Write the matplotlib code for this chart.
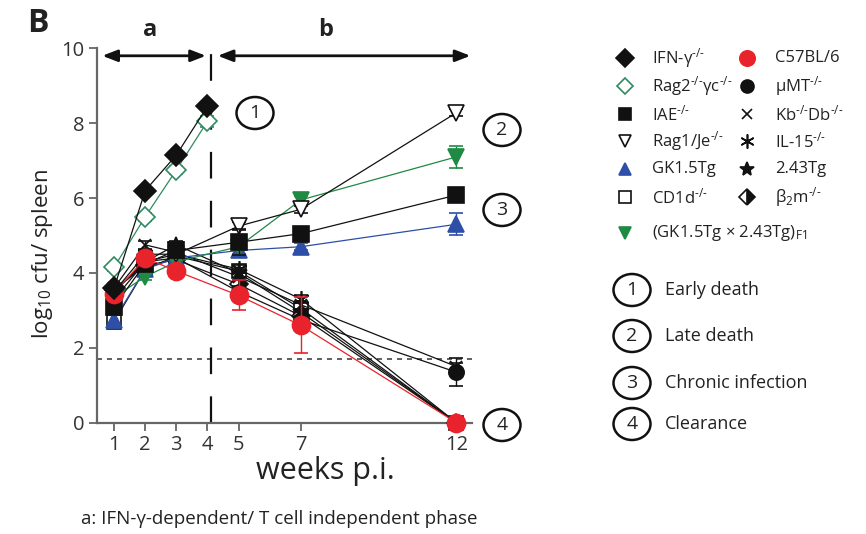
import matplotlib
matplotlib.use('Agg')
import matplotlib.pyplot as plt
from matplotlib.patches import Ellipse
from matplotlib.lines import Line2D

plt.rcParams['font.family'] = ['Open Sans', 'DejaVu Sans']
plt.rcParams['mathtext.fontset'] = 'custom'
plt.rcParams['mathtext.rm'] = 'Open Sans'
plt.rcParams['mathtext.it'] = 'Open Sans:italic'
plt.rcParams['mathtext.bf'] = 'Open Sans:bold'

# ---------------- data ----------------
weeks_early = [1, 2, 3, 4]
weeks = [1, 2, 3, 5, 7, 12]
xticks = [1, 2, 3, 4, 5, 7, 12]
yticks = [0, 2, 4, 6, 8, 10]

ifng = [3.6, 6.2, 7.15, 8.45]
rag2gc = [4.15, 5.5, 6.75, 8.05]

iae = [3.1, 4.25, 4.6, 4.82, 5.05, 6.08]
rag1je = [3.3, 4.3, 4.5, 5.25, 5.7, 8.28]
gk15 = [2.75, 4.1, 4.4, 4.6, 4.7, 5.3]
f1 = [3.35, 3.9, 4.3, 4.7, 5.95, 7.1]
cd1d = [2.7, 4.1, 4.45, 4.05, 3.05, 0.0]
c57 = [3.45, 4.4, 4.05, 3.4, 2.6, 0.0]
mumt = [3.5, 4.3, 4.4, 3.5, 2.75, 1.35]
kbdb = [3.6, 4.75, 4.55, 3.9, 3.15, 1.5]
il15 = [3.5, 4.5, 4.5, 4.1, 3.3, 0.0]
tg243 = [3.5, 4.3, 4.75, 4.0, 2.95, 0.0]
b2m = [3.55, 4.2, 4.35, 3.7, 2.85, 0.0]

ifng_err = [0.1, 0.1, 0.1, 0.1]
rag2gc_err = [0.1, 0.1, 0.1, 0.15]
iae_err = [0.2, 0.1, 0.2, 0.35, 0.1, 0.1]
rag1je_err = [0.1, 0.1, 0.1, 0.1, 0.1, 0.1]
gk15_err = [0.2, 0.1, 0.1, 0.1, 0.1, 0.3]
f1_err = [0.1, 0.1, 0.1, 0.1, 0.1, 0.3]
cd1d_err = [0.1, 0.1, 0.1, 0.1, 0.1, 0.0]
c57_err = [0.1, 0.1, 0.15, 0.4, 0.75, 0.0]
mumt_err = [0.1, 0.1, 0.1, 0.15, 0.2, 0.38]
kbdb_err = [0.1, 0.1, 0.1, 0.1, 0.1, 0.1]
il15_err = [0.1, 0.1, 0.1, 0.1, 0.1, 0.0]
tg243_err = [0.1, 0.1, 0.1, 0.1, 0.1, 0.0]
b2m_err = [0.1, 0.1, 0.1, 0.1, 0.1, 0.0]

KO = '$^{\\text{-/-}}$'
labels = ['IFN-γ' + KO, 'Rag2' + KO + 'γc' + KO, 'IAE' + KO,
          'Rag1/Je' + KO, 'GK1.5Tg', 'CD1d' + KO,
          '(GK1.5Tg × 2.43Tg)$_{\\mathrm{F1}}$',
          'C57BL/6', 'µMT' + KO, 'Kb' + KO + 'Db' + KO, 'IL-15' + KO,
          '2.43Tg', 'β$_2$m' + KO]

detection_limit = 1.7
phase_boundary = 4.1
outcomes = ['Early death', 'Late death', 'Chronic infection', 'Clearance']
footnote = 'a: IFN-γ-dependent/ T cell independent phase'

# ---------------- styles ----------------
BLACK = '#111111'
GREEN = '#1f8a44'
TEAL = '#2f8a62'
BLUE = '#2d4fa8'
RED = '#e8232b'
GRAY = '#666666'

series = [
    # x, y, err, marker, ms, mfc, mec, line color, fillstyle
    (weeks, cd1d, cd1d_err, 's', 10, 'white', BLACK, BLACK, 'full'),
    (weeks, b2m, b2m_err, 'D', 9, BLACK, BLACK, BLACK, 'right'),
    (weeks, tg243, tg243_err, '*', 12, BLACK, BLACK, BLACK, 'full'),
    (weeks, il15, il15_err, (6, 2, 0), 12, BLACK, BLACK, BLACK, 'full'),
    (weeks, kbdb, kbdb_err, 'x', 9, BLACK, BLACK, BLACK, 'full'),
    (weeks, mumt, mumt_err, 'o', 11, BLACK, BLACK, BLACK, 'full'),
    (weeks, gk15, gk15_err, '^', 11, BLUE, BLUE, BLUE, 'full'),
    (weeks, f1, f1_err, 'v', 11, GREEN, GREEN, GREEN, 'full'),
    (weeks, rag1je, rag1je_err, 'v', 11, 'white', BLACK, BLACK, 'full'),
    (weeks, iae, iae_err, 's', 11, BLACK, BLACK, BLACK, 'full'),
    (weeks, c57, c57_err, 'o', 13, RED, RED, RED, 'full'),
    (weeks_early, rag2gc, rag2gc_err, 'D', 10, 'white', TEAL, TEAL, 'full'),
    (weeks_early, ifng, ifng_err, 'D', 11, BLACK, BLACK, BLACK, 'full'),
]

W, H = 866, 534
fig = plt.figure(figsize=(W / 100, H / 100), dpi=100)

def px(x0, y0, x1, y1):
    return [x0 / W, 1 - y1 / H, (x1 - x0) / W, (y1 - y0) / H]

ax = fig.add_axes(px(97, 48.3, 472, 422.7))

for i, (x, y, e, m, ms, mfc, mec, lc, fs) in enumerate(series):
    ax.errorbar(x, y, yerr=e, color=lc, lw=0.9, elinewidth=1.0, capsize=5,
                capthick=1.0, marker=m, ms=ms, mfc=mfc, mec=mec, mew=1.2,
                fillstyle=fs, markerfacecoloralt='white', zorder=3 + i * 0.1,
                clip_on=False)

ax.set_xlim(0.45, 12.5)
ax.set_ylim(0, 10)
ax.set_xticks(xticks)
ax.set_yticks(yticks)
ax.tick_params(direction='out', length=6, width=1.3, color=GRAY,
               labelsize=14.5, labelcolor='#333333', pad=3)
for s in ['top', 'right']:
    ax.spines[s].set_visible(False)
for s in ['left', 'bottom']:
    ax.spines[s].set_color(GRAY)
    ax.spines[s].set_linewidth(1.6)

ax.set_xlabel('weeks p.i.', fontsize=22, color='#222222')
ax.xaxis.set_label_coords(0.608, -0.088)
ax.set_ylabel('log$_{10}$ cfu/ spleen', fontsize=16, color='#222222')
ax.yaxis.set_label_coords(-0.112, 0.45)

# detection limit and phase boundary
ax.axhline(detection_limit, color='#444444', lw=1.2, dashes=(3, 3), zorder=1)
vl = ax.axvline(phase_boundary, color=BLACK, lw=1.6, zorder=1)
vl.set_dashes((12, 10))

# phase arrows
arrow_kw = dict(arrowstyle='<|-|>,head_length=0.9,head_width=0.35',
                color=BLACK, lw=2, shrinkA=0, shrinkB=0)
ax.annotate('', xy=(3.95, 9.8), xytext=(0.62, 9.8), arrowprops=arrow_kw,
            annotation_clip=False)
ax.annotate('', xy=(12.45, 9.8), xytext=(4.33, 9.8), arrowprops=arrow_kw,
            annotation_clip=False)
ax.text(2.15, 10.5, 'a', fontsize=17, fontweight='bold', ha='center',
        va='center', color='#222222')
ax.text(7.8, 10.5, 'b', fontsize=17, fontweight='bold', ha='center',
        va='center', color='#222222')

# overlay in pixel coordinates for annotations and legend
lax = fig.add_axes([0, 0, 1, 1])
lax.set_xlim(0, W)
lax.set_ylim(H, 0)
lax.axis('off')

lax.text(38, 24, 'B', fontsize=23, fontweight='bold', ha='center',
         va='center', color='#222222')

def circ(x, y, n):
    lax.add_patch(Ellipse((x, y), 37, 32, fc='none', ec=BLACK, lw=1.8))
    lax.text(x, y, str(n), fontsize=14, ha='center', va='center',
             color='#222222')

for (cx, cy), n in zip([(255, 113), (502, 130), (502, 210), (502, 425)],
                       [1, 2, 3, 4]):
    circ(cx, cy, n)

# manual two-column legend
order_to_series = [12, 11, 9, 8, 6, 0, 7, 10, 5, 4, 3, 2, 1]
rows_y = [58, 86, 114, 141, 169, 197, 233]
for k, idx in enumerate(order_to_series):
    _, _, _, m, ms, mfc, mec, lc, fs = series[idx]
    if k < 7:
        mx, tx, ty = 625, 652, rows_y[k]
    else:
        mx, tx, ty = 747, 775, rows_y[k - 7]
    lax.add_line(Line2D([mx], [ty], marker=m, ms=ms * 0.85, mfc=mfc, mec=mec,
                        mew=1.2, fillstyle=fs, markerfacecoloralt='white',
                        ls='none'))
    lax.text(tx, ty, labels[k], fontsize=12, ha='left', va='center',
             color='#222222')

for n, (lab, cy) in enumerate(zip(outcomes, [290, 336, 383, 424]), start=1):
    circ(632, cy, n)
    lax.text(665, cy, lab, fontsize=13, ha='left', va='center',
             color='#222222')

lax.text(81, 519, footnote, fontsize=13.5, ha='left', va='center',
         color='#222222')

fig.savefig('out.png', dpi=100)
